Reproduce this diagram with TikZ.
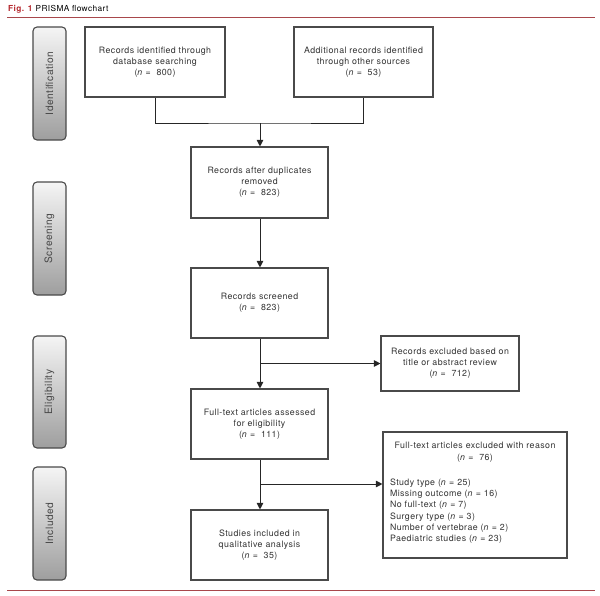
\documentclass[tikz,border=0pt]{standalone}
\usepackage{fontspec}
\setmainfont[LetterSpace=5]{TeX Gyre Heros}
\usetikzlibrary{arrows.meta}
\definecolor{figred}{HTML}{B5282E}
\definecolor{rule}{HTML}{A8474B}
\definecolor{ink}{HTML}{333333}
\definecolor{edge}{HTML}{4A4A4A}
\tikzset{
  flowbox/.style={draw=edge, line width=1.1pt, fill=white, minimum width=137pt, minimum height=70pt,
    inner sep=2pt, align=center, text=ink, font=\fontsize{8.8}{11}\selectfont},
  phasebox/.style={draw=edge, line width=1.1pt, rounded corners=4pt, minimum width=33pt,
    top color=white!96!black, bottom color=black!38, text=black!72,
    font=\fontsize{10.2}{12}\selectfont, inner sep=0pt},
  link/.style={draw=black!85, line width=1pt},
  arrowlink/.style={link, -{Triangle[length=6.5pt,width=6.5pt]}},
}
\begin{document}
\begin{tikzpicture}[x=1pt,y=-1pt]
\useasboundingbox (0,0) rectangle (600,595);
% header
\node[anchor=base west, inner sep=0pt, font=\fontsize{8.3}{10}\selectfont] (title) at (8,11)
  {\textcolor{figred}{\textbf{Fig. 1}} PRISMA flowchart};
\coordinate (tl) at (7,17);
\coordinate (tr) at (595,17);
\draw[rule, line width=0.8pt] (tl) -- (tr);
\coordinate (bl) at (7,590);
\coordinate (br) at (595,590);
\draw[rule, line width=0.8pt] (bl) -- (br);

% phase boxes
\node[phasebox, minimum height=113pt] (pid) at (49.5,83.5) {\rotatebox{90}{Identification}};
\node[phasebox, minimum height=113pt] (psc) at (49.5,238.5) {\rotatebox{90}{Screening}};
\node[phasebox, minimum height=112pt] (pel) at (49.5,392) {\rotatebox{90}{Eligibility}};
\node[phasebox, minimum height=113pt] (pin) at (49.5,523.5) {\rotatebox{90}{Included}};

% flow boxes
\node[flowbox, minimum width=140pt] (b1) at (155,62)
  {Records identified through\\database searching\\(\textit{n} =\ \ 800)};
\node[flowbox, minimum width=139pt] (b2) at (363.5,62)
  {Additional records identified\\through other sources\\(\textit{n} =\ \ 53)};
\node[flowbox, minimum height=71pt] (b3) at (259.5,182.5)
  {Records after duplicates\\removed\\(\textit{n} =\ \ 823)};
\node[flowbox] (b4) at (259.5,303)
  {Records screened\\(\textit{n} =\ \ 823)};
\node[flowbox, minimum width=138pt, minimum height=55pt] (b5) at (450,363.5)
  {Records excluded based on\\title or abstract review\\(\textit{n} =\ \ 712)};
\node[flowbox] (b6) at (259.5,424)
  {Full-text articles assessed\\for eligibility\\(\textit{n} =\ \ 111)};
\node[draw=edge, line width=1.1pt, fill=white, minimum width=184pt, minimum height=126pt,
  text width=170pt, inner xsep=7pt, text=ink, font=\fontsize{8.8}{11.3}\selectfont] (b7) at (475,495)
  {{\centering Full-text articles excluded with reason\\(\textit{n} =\ \ 76)\par}\vspace{14pt}
   \raggedright Study type (\textit{n} = 25)\\Missing outcome (\textit{n} = 16)\\No full-text (\textit{n} = 7)\\
   Surgery type (\textit{n} = 3)\\Number of vertebrae (\textit{n} = 2)\\Paediatric studies (\textit{n} = 23)\vspace{4pt}};
\node[flowbox] (b8) at (259.5,545)
  {Studies included in\\qualitative analysis\\(\textit{n} =\ \ 35)};

% connectors
\coordinate (j1) at (260,123);
\coordinate (j2) at (260,363.5);
\coordinate (j3) at (260,484);
\draw[link] (b1.south) |- (j1) -| (b2.south);
\draw[arrowlink] (j1) -- (b3.north -| j1);
\draw[arrowlink] (b3.south -| j1) -- (b4.north -| j1);
\draw[arrowlink] (b4.south -| j1) -- (b6.north -| j1);
\draw[arrowlink] (j2) -- (b5.west);
\draw[arrowlink] (b6.south -| j1) -- (b8.north -| j1);
\draw[arrowlink] (j3) -- (b7.west |- j3);
\end{tikzpicture}
\end{document}
